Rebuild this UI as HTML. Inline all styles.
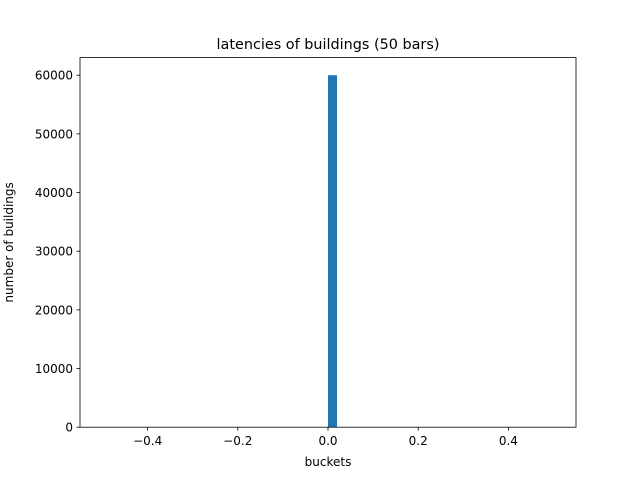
<!DOCTYPE html>
<html><head><meta charset="utf-8">
<style>
html,body{margin:0;padding:0;background:#fff;}
svg{display:block;font-family:"DejaVu Sans","Liberation Sans",sans-serif;}
</style></head>
<body>
<svg id="chart" width="640" height="480" viewBox="0 0 640 480">
<rect width="640" height="480" fill="#fff"/>
<text x="328" y="49" font-size="14.4" text-anchor="middle">latencies of buildings (50 bars)</text>
<g id="bars"></g>
<g id="axes"></g>
<text x="328" y="466" font-size="12" text-anchor="middle">buckets</text>
<text transform="translate(13,242.4) rotate(-90)" font-size="12" text-anchor="middle">number of buildings</text>
</svg>
<script>
const binStart = -0.5;
const binWidth = 0.02;
const counts = [0,0,0,0,0,0,0,0,0,0,0,0,0,0,0,0,0,0,0,0,0,0,0,0,0,60000,0,0,0,0,0,0,0,0,0,0,0,0,0,0,0,0,0,0,0,0,0,0,0,0];
const xTicks = [-0.4,-0.2,0.0,0.2,0.4];
const xTickLabels = ["\u22120.4","\u22120.2","0.0","0.2","0.4"];
const yTicks = [0,10000,20000,30000,40000,50000,60000];
const yTickLabels = ["0","10000","20000","30000","40000","50000","60000"];

const L=80,R=576,T=57.6,B=427.2;
const xMin=-0.55,xMax=0.55;
const yMax=Math.max(...counts)*1.05;
const xs=v=>L+(v-xMin)/(xMax-xMin)*(R-L);
const ys=v=>B-v/yMax*(B-T);
const NS="http://www.w3.org/2000/svg";
const bars=document.getElementById('bars');
counts.forEach((c,i)=>{
  if(c<=0) return;
  const r=document.createElementNS(NS,'rect');
  const x0=xs(binStart+i*binWidth), x1=xs(binStart+(i+1)*binWidth);
  r.setAttribute('x',x0);r.setAttribute('width',x1-x0);
  r.setAttribute('y',ys(c));r.setAttribute('height',B-ys(c));
  r.setAttribute('fill','#1f77b4');
  
  
  bars.appendChild(r);
});
const ax=document.getElementById('axes');
const frame=document.createElementNS(NS,'rect');
frame.setAttribute('x',L);frame.setAttribute('y',T);frame.setAttribute('width',R-L);frame.setAttribute('height',B-T);
frame.setAttribute('fill','none');frame.setAttribute('stroke','#000');frame.setAttribute('stroke-width','0.8');


ax.appendChild(frame);
xTicks.forEach((t,i)=>{
  const x=xs(t);
  const l=document.createElementNS(NS,'line');
  l.setAttribute('x1',x);l.setAttribute('x2',x);l.setAttribute('y1',B);l.setAttribute('y2',B+3.5);
  l.setAttribute('stroke','#000');l.setAttribute('stroke-width','0.8');
  
  
  ax.appendChild(l);
  const tx=document.createElementNS(NS,'text');
  tx.setAttribute('x',x);tx.setAttribute('y',B+18);tx.setAttribute('font-size','12');tx.setAttribute('text-anchor','middle');
  tx.textContent=xTickLabels[i];
  
  
  ax.appendChild(tx);
});
yTicks.forEach((t,i)=>{
  const y=ys(t);
  const l=document.createElementNS(NS,'line');
  l.setAttribute('x1',L-3.5);l.setAttribute('x2',L);l.setAttribute('y1',y);l.setAttribute('y2',y);
  l.setAttribute('stroke','#000');l.setAttribute('stroke-width','0.8');
  
  
  ax.appendChild(l);
  const tx=document.createElementNS(NS,'text');
  tx.setAttribute('x',L-7);tx.setAttribute('y',y+4.5);tx.setAttribute('font-size','12');tx.setAttribute('text-anchor','end');
  tx.textContent=yTickLabels[i];
  
  
  ax.appendChild(tx);
});
</script>
</body></html>
